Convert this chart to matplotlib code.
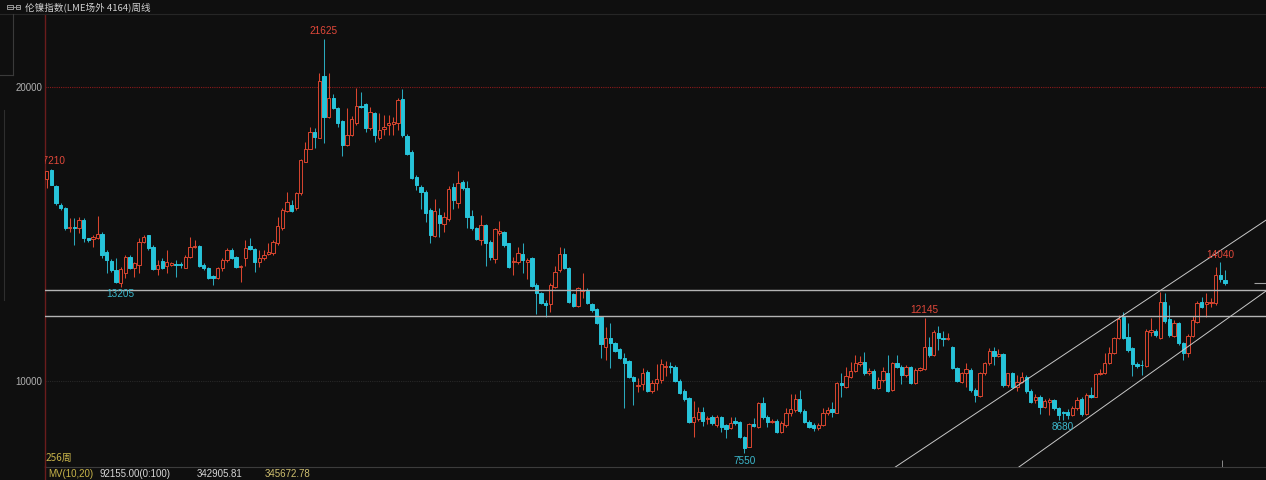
import numpy as np
import matplotlib
matplotlib.use('Agg')
import matplotlib.pyplot as plt
from matplotlib.lines import Line2D

BG = '#0f0f0f'
UP = '#d9452f'
DOWN = '#27c3d9'
DOWN_WICK = '#2aa8bb'

# weekly OHLC (256 weeks)
opens = [16880, 17170, 16640, 16000, 15890, 15190, 15230, 15190, 15470, 14850,
         14820, 14850, 14990, 14370, 14080, 13770, 13320, 13660, 14230, 13850,
         13940, 14730, 14960, 14550, 13800, 14090, 13920, 13960, 13980, 13970,
         13850, 14220, 14550, 14600, 13960, 13850, 13580, 13510, 13830, 14110,
         14470, 14210, 13870, 14170, 14600, 14480, 14050, 14170, 14310, 14340,
         14680, 15190, 15770, 16000, 15870, 16380, 17460, 17900, 18470, 18270,
         20370, 18990, 19610, 19270, 18850, 18020, 18360, 18760, 19350, 19420,
         18590, 19100, 18250, 18560, 18690, 18730, 18760, 19580, 18330, 17800,
         16940, 16600, 16430, 15810, 14940, 15650, 15340, 15500, 16580, 16040,
         16780, 16550, 15610, 15190, 14790, 15290, 14740, 14140, 15020, 15080,
         14680, 14040, 14060, 14320, 14060, 14170, 13260, 13000, 12660, 12620,
         13210, 13770, 14310, 13830, 12950, 12560, 13060, 13070, 12610, 12440,
         12160, 11140, 11450, 11280, 11080, 10770, 10680, 10130, 9830, 9900,
         10310, 9670, 9940, 10030, 10490, 10510, 10490, 10010, 9670, 9410,
         8620, 8700, 8960, 8700, 8790, 8510, 8770, 8490, 8390, 8650,
         8620, 8090, 7770, 8540, 8450, 9260, 8770, 8610, 8630, 8280,
         8510, 8900, 9020, 9380, 8990, 8620, 8510, 8390, 8510, 8900,
         9040, 8920, 9940, 9810, 10150, 10340, 10580, 10640, 10260, 10340,
         9770, 10030, 10260, 9700, 10600, 10490, 10200, 10470, 9940, 10370,
         10400, 11150, 10880, 11620, 11450, 11430, 11170, 10430, 9980, 10260,
         10370, 9700, 9490, 10260, 10600, 11020, 10850, 10920, 9860, 10260,
         9810, 9980, 10150, 9670, 9360, 9470, 9130, 9300, 9360, 9070,
         8950, 8960, 8850, 9070, 9390, 8880, 9530, 9470, 10240, 10260,
         10600, 10940, 11450, 12160, 11490, 11110, 10580, 10560, 10510, 11680,
         11710, 11450, 12700, 12110, 11540, 11980, 11280, 10940, 11530, 12020,
         12670, 12620, 12640, 12640, 13600, 13430]
highs = [17150, 17210, 16660, 16040, 15920, 15530, 15530, 15580, 15530, 14870,
         14960, 15620, 15050, 14450, 14140, 14170, 13880, 14280, 14280, 14050,
         14850, 14980, 14980, 14620, 14110, 14170, 14450, 14050, 14110, 14050,
         14280, 14900, 14790, 14620, 14000, 13890, 13620, 13880, 14190, 14510,
         14510, 14260, 13940, 14790, 14850, 14510, 14450, 14450, 14680, 14790,
         15580, 15870, 16410, 16150, 16410, 17560, 18130, 18640, 18610, 20460,
         21625, 20460, 19760, 19330, 18880, 19280, 19010, 19950, 19840, 19450,
         19300, 19130, 19100, 19050, 19050, 18990, 19620, 19920, 18400, 17850,
         17020, 16660, 16490, 15870, 16180, 15870, 15760, 16630, 16720, 17150,
         16830, 16810, 15810, 15250, 15640, 15340, 14790, 15190, 15450, 15110,
         14700, 14230, 14540, 14680, 14170, 14230, 13320, 13040, 12750, 13320,
         13910, 14540, 14510, 13890, 13000, 13210, 13660, 13150, 12640, 12470,
         12210, 11850, 11960, 11340, 11110, 10940, 10710, 10170, 10090, 10430,
         10370, 10030, 10580, 10740, 10690, 10660, 10540, 10060, 9720, 9450,
         9330, 9130, 9110, 8810, 8850, 8850, 8810, 8540, 8770, 8790,
         8650, 8130, 8580, 8730, 9300, 9450, 8850, 8700, 8700, 8650,
         9070, 9560, 9560, 9690, 9040, 8680, 8560, 8560, 9070, 9110,
         9300, 9980, 10260, 10490, 10660, 10880, 10850, 11000, 10430, 10400,
         10130, 10470, 10880, 10660, 10880, 10540, 10540, 10510, 10430, 10490,
         12145, 11510, 11730, 11870, 11710, 11640, 11190, 10490, 10320, 10600,
         10430, 9750, 10320, 10660, 11110, 11150, 11080, 10960, 10280, 10320,
         10200, 10320, 10200, 9720, 9560, 9530, 9380, 9410, 9380, 9130,
         8990, 9040, 9150, 9450, 9470, 9580, 9810, 10280, 10400, 10960,
         11170, 11510, 12240, 12360, 11960, 11150, 10640, 10710, 11760, 12130,
         11760, 13040, 12980, 12580, 12070, 12020, 11340, 11600, 12210, 12730,
         12840, 12980, 12810, 13890, 14040, 13770]
lows = [16570, 16660, 15980, 15810, 15150, 15070, 14620, 15020, 14730, 14730,
        14560, 14820, 14170, 13660, 13710, 13320, 13205, 13490, 13800, 13540,
        13660, 14680, 14450, 13760, 13620, 13800, 13660, 13920, 13540, 13830,
        13830, 14170, 14510, 13870, 13770, 13460, 13280, 13460, 13740, 14050,
        14140, 13830, 13370, 13920, 14450, 13710, 13880, 14110, 14280, 14280,
        14620, 15130, 15730, 15730, 15810, 16340, 17450, 17880, 17930, 18260,
        18090, 18950, 19240, 18650, 17650, 17990, 18330, 18700, 19290, 18480,
        18530, 18140, 18200, 18360, 18360, 18360, 18530, 18280, 17690, 16860,
        16490, 15850, 15410, 14700, 14900, 14900, 15080, 15450, 15840, 15870,
        16490, 15190, 15130, 14790, 14620, 13910, 14110, 14000, 14960, 14540,
        13830, 13600, 13980, 13660, 13460, 13180, 12280, 12620, 12190, 12360,
        13150, 13720, 13800, 12660, 12530, 12530, 12810, 12620, 12360, 11940,
        10770, 10710, 10430, 11000, 10740, 9070, 10090, 9190, 9640, 9690,
        9630, 9600, 9690, 9940, 10170, 10260, 9980, 9560, 9330, 8580,
        8110, 8650, 8470, 8540, 8510, 8450, 8280, 8050, 8360, 8510,
        8050, 7550, 7750, 8430, 8390, 8700, 8450, 8560, 8220, 8220,
        8450, 8810, 8960, 8920, 8560, 8390, 8310, 8340, 8470, 8850,
        8790, 8900, 9470, 9750, 10090, 10320, 10510, 10200, 10200, 9720,
        9720, 9980, 9640, 9670, 10430, 9900, 10150, 9900, 9900, 10350,
        10370, 10800, 10850, 11050, 11190, 11390, 10400, 9980, 9940, 9810,
        9640, 9300, 9470, 10200, 10540, 10540, 10800, 9810, 9810, 9750,
        9670, 9920, 9600, 9260, 9240, 8880, 9070, 8850, 9020, 8680,
        8680, 8700, 8810, 9020, 8810, 8850, 9430, 9450, 10200, 10240,
        10580, 10920, 11420, 11420, 11000, 10170, 10430, 10200, 10490, 11530,
        11510, 11420, 11980, 11490, 11490, 11220, 10710, 10800, 11490, 11980,
        12470, 12190, 12530, 12580, 13380, 13260]
closes = [17130, 16680, 16040, 15870, 15190, 15220, 15210, 15490, 14850, 14800,
          14900, 15010, 14300, 14110, 13770, 13350, 13800, 14210, 13850, 14000,
          14730, 14900, 14530, 13800, 13960, 13850, 14050, 14000, 13950, 13940,
          14220, 14550, 14570, 13920, 13830, 13510, 13490, 13830, 14110, 14470,
          14190, 13870, 13920, 14510, 14480, 14050, 14170, 14280, 14370, 14730,
          15280, 15810, 16090, 15770, 16400, 17510, 17900, 18470, 18280, 20200,
          18990, 19610, 19270, 18760, 18020, 18360, 18900, 19350, 19320, 18590,
          19160, 18360, 18530, 18630, 18760, 18790, 19550, 18360, 17720, 16890,
          16660, 16430, 15720, 14960, 15770, 15380, 15560, 16520, 16150, 16720,
          16550, 15590, 15190, 14830, 15290, 14700, 14200, 15160, 15110, 14620,
          13890, 14060, 14340, 14110, 14110, 13230, 12980, 12660, 12570, 13260,
          13720, 14310, 13830, 12700, 12560, 13150, 13090, 12660, 12410, 11980,
          11250, 11450, 11300, 11030, 10770, 10600, 10130, 10010, 9850, 10260,
          9670, 9940, 10060, 10580, 10510, 10470, 10010, 9600, 9380, 8620,
          8770, 8960, 8650, 8730, 8560, 8790, 8450, 8380, 8580, 8580,
          8090, 7710, 8540, 8470, 9240, 8770, 8620, 8650, 8280, 8560,
          8920, 9040, 9380, 8990, 8620, 8450, 8390, 8510, 8900, 9020,
          8960, 9920, 9850, 10170, 10340, 10600, 10660, 10260, 10340, 9770,
          10030, 10350, 9670, 10620, 10490, 10200, 10470, 9940, 10370, 10430,
          11170, 10880, 11680, 11450, 11430, 11440, 10430, 10010, 10260, 10400,
          9700, 9530, 10260, 10600, 11020, 10850, 10920, 9860, 10260, 9810,
          9980, 10150, 9670, 9300, 9470, 9130, 9320, 9360, 9070, 8850,
          8900, 8850, 9070, 9360, 8880, 9530, 9470, 10240, 10280, 10620,
          10960, 11450, 12110, 11450, 11050, 10580, 10520, 10530, 11710, 11730,
          11560, 12700, 12050, 11560, 11980, 11280, 10940, 11540, 12070, 12640,
          12530, 12670, 12700, 13600, 13460, 13320]

# drawn studies
support_levels = [13080, 12220]
channel_upper = [(180, 6690), (264, 15480)]
channel_lower = [(205, 6470), (264, 13070)]
peak_weeks = [1, 60, 190, 254]
trough_weeks = [16, 151, 220]
grid_levels = [10000, 20000]

title = '伦镍指数(LME场外 4164)周线'
period_label = '256周'
mv_labels = ['MV(10,20)', '92155.00(0:100)', '342905.81', '345672.78']

W, H = 1266, 480
NUM_FONT = 'Liberation Sans'
plt.rcParams['font.family'] = ['Noto Sans CJK SC', 'DejaVu Sans']

fig = plt.figure(figsize=(W / 100, H / 100), dpi=100, facecolor=BG)
ax = fig.add_axes([45 / W, 13 / H, 1221 / W, 453 / H], facecolor=BG)

o = np.array(opens, float)
h = np.array(highs, float)
l = np.array(lows, float)
c = np.array(closes, float)
x = np.arange(len(c))
up = c >= o

# wicks then bodies (hollow red up, filled cyan down)
ax.vlines(x, l, h, colors=np.where(up, UP, DOWN_WICK), lw=0.75, zorder=2)
body_lo = np.minimum(o, c)
body_h = np.maximum(np.abs(c - o), 25)
ax.bar(x, body_h, bottom=body_lo, width=0.72,
       color=np.where(up, BG, DOWN), edgecolor=np.where(up, UP, DOWN),
       linewidth=0.7, zorder=3)

# grid lines
ax.axhline(grid_levels[1], color='#8a1a1a', lw=0.8, ls=(0, (1, 1)), zorder=1)
ax.axhline(grid_levels[0], color='#282828', lw=0.8, ls=(0, (1, 1)), zorder=1)

# horizontal supports and rising channel
for lvl in support_levels:
    ax.axhline(lvl, color='#b4b4b4', lw=1.0, zorder=4)
for pts in (channel_upper, channel_lower):
    ax.plot([pts[0][0], pts[1][0]], [pts[0][1], pts[1][1]],
            color='#c8c8c8', lw=0.7, zorder=4)

# high / low markers
for i in peak_weeks:
    ax.text(i, h[i] + 90, f'{h[i]:.0f}', color='#e2483a', fontsize=7.2,
            family=NUM_FONT, ha='center', va='bottom', clip_on=True, zorder=5)
for i in trough_weeks:
    ax.text(i, l[i] - 90, f'{l[i]:.0f}', color='#3cb8cc', fontsize=7.2,
            family=NUM_FONT, ha='center', va='top', clip_on=True, zorder=5)

# last price marker and cursor tick
ax.hlines(c[-1], 261.3, 264, color='#a0a0a0', lw=0.8, zorder=4)
ax.vlines(254.4, 7076, 7300, color='#8a8a8a', lw=0.7, zorder=4)

ax.set_xlim(-0.37, 263.9)
ax.set_ylim(7076, 22478)
ax.set_xticks([])
ax.set_yticks(grid_levels)
ax.set_yticklabels([f'{v}' for v in grid_levels], family=NUM_FONT)
ax.tick_params(axis='y', length=0, pad=2, labelsize=7, labelcolor='#b0b0b0')
for side in ('top', 'right'):
    ax.spines[side].set_visible(False)
ax.spines['left'].set_color('#6a1c1c')
ax.spines['left'].set_linewidth(1.0)
ax.spines['bottom'].set_color('#3c3c3c')
ax.spines['bottom'].set_linewidth(0.8)


def fx(px):
    return px / W


def fy(py):
    return 1 - py / H


def fig_line(x0, y0, x1, y1, color, lw=0.8):
    fig.add_artist(Line2D([fx(x0), fx(x1)], [fy(y0), fy(y1)],
                          transform=fig.transFigure, color=color, lw=lw))


# frame bits outside the main axes
fig_line(0, 13.5, W, 13.5, '#262626')
fig_line(45, 466, 45, 480, '#6a1c1c', 1.0)
fig_line(13, 14, 13, 75, '#3a3a3a')
fig_line(0, 75, 13, 75, '#3a3a3a')
fig_line(4, 110, 4, 300, '#2e2e2e')

# title bar with small link icon
fig_line(8, 7, 20, 7, '#9a9a9a', 0.6)
for cx in (10, 18):
    fig.add_artist(plt.Rectangle((fx(cx - 2.5), fy(9)), 5 / W, 4 / H,
                                 transform=fig.transFigure, fill=False,
                                 ec='#b0b0b0', lw=0.6))
fig.text(fx(25), fy(7), title, color='#cfcfcf', fontsize=6.9,
         ha='left', va='center')

# bottom info rows
fig.text(fx(46), fy(458), period_label, color='#c8b44a', fontsize=7.2,
         ha='left', va='center')
mv_x = [48, 100, 197, 265]
mv_colors = ['#c8b44a', '#d6d6d6', '#d6d6d6', '#d0c070']
for lbl, px, col in zip(mv_labels, mv_x, mv_colors):
    fig.text(fx(px), fy(474), lbl, color=col, fontsize=7, family=NUM_FONT,
             ha='left', va='center')

fig.savefig('out.png', dpi=100, facecolor=BG)
